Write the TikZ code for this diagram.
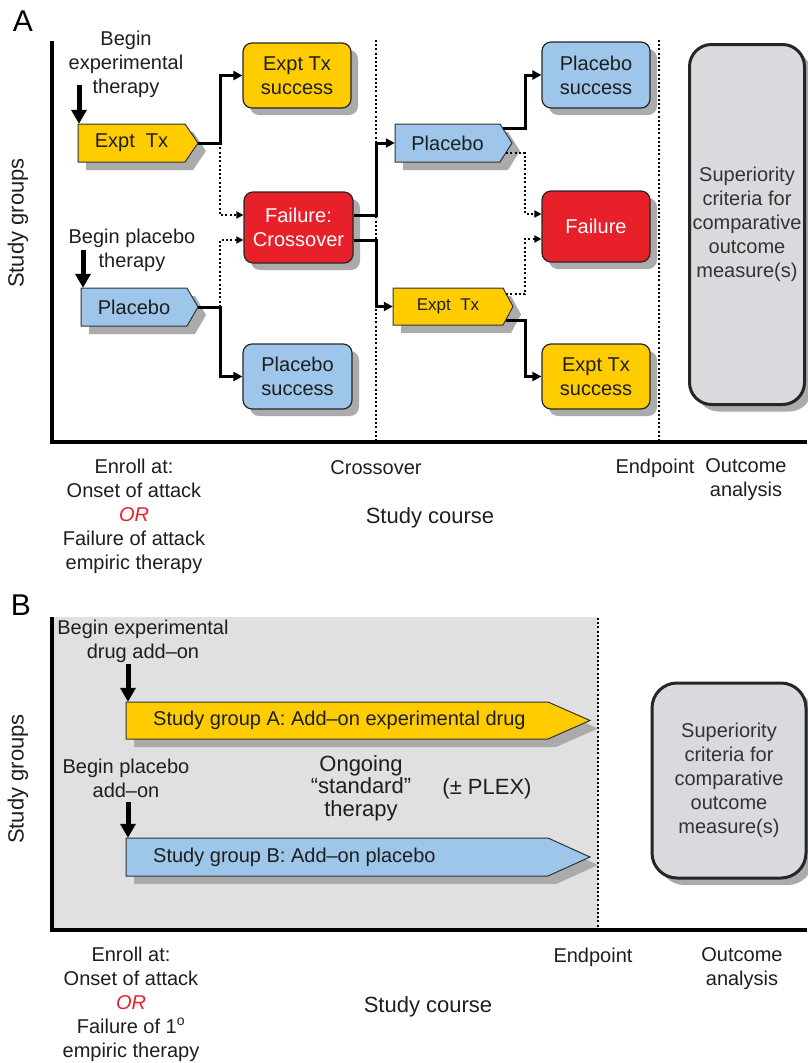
\documentclass[tikz,border=0pt]{standalone}
\usepackage{fontspec}
\setmainfont{Liberation Sans}
\usetikzlibrary{arrows.meta,shadows}
\definecolor{yel}{HTML}{FFCC00}
\definecolor{blu}{HTML}{9DC6EA}
\definecolor{rd}{HTML}{E8202A}
\definecolor{gbox}{HTML}{D8DADD}
\definecolor{bgB}{HTML}{E0E0E0}
\definecolor{shd}{HTML}{ABABAB}
\definecolor{txt}{HTML}{1E1E1E}
\newcommand\pentbox[8]{%
  \pgfmathsetmacro\pw{#4-#2}\pgfmathsetmacro\ph{#6-#3}%
  \pgfmathsetmacro\pmy{(#3+#6)/2}\pgfmathsetmacro\pmx{(#2+#4)/2}%
  \fill[shd,shift={(8pt,-8pt)}] (#2,#3) -- (#4,#3) -- (#5,\pmy) -- (#4,#6) -- (#2,#6) -- cycle;
  \draw[fill=#7,pentline] (#2,#3) -- (#4,#3) -- (#5,\pmy) -- (#4,#6) -- (#2,#6) -- cycle;
  \coordinate (#1-tip) at (#5,\pmy);
  \node[lbl,minimum width=\pw pt,minimum height=\ph pt] (#1) at (\pmx,\pmy) {#8};
}
\begin{document}
\begin{tikzpicture}[x=1pt,y=-1pt,
  lbl/.style={font=\fontsize{20}{24}\selectfont, align=center, text=txt, inner sep=0pt},
  big/.style={font=\fontsize{22}{22.5}\selectfont, align=center, text=txt, inner sep=0pt},
  pentline/.style={draw=black!80, line width=1pt},
  rbox/.style={lbl, draw=black!85, line width=1.2pt, rounded corners=9pt,
    drop shadow={shadow xshift=7pt, shadow yshift=-7pt, fill=shd, opacity=1}},
  supbox/.style={lbl, text=black!80, draw=black!85, fill=gbox, line width=3pt,
    drop shadow={shadow xshift=7pt, shadow yshift=-7pt, fill=shd, opacity=1}},
  conn/.style={line width=3pt, -{Triangle[length=9pt,width=9pt]}},
  dconn/.style={line width=2.2pt, dash pattern=on 2pt off 2.3pt, -{Triangle[length=7pt,width=7pt]}},
  bigarr/.style={line width=5pt, -{Triangle[length=14pt,width=15pt]}},
  axis/.style={line width=4pt},
  vdot/.style={line width=2pt, dash pattern=on 2pt off 2.2pt},
]
\useasboundingbox (0,0) rectangle (807,1063);

%================ PANEL A ================
\node[font=\fontsize{30}{30}\selectfont, inner sep=0] (labA) at (23,21) {A};
\coordinate (yA) at (52,41);
\coordinate (oA) at (52,442);
\coordinate (xA) at (807,442);
\draw[axis] (yA) -- (oA) -- (xA);
\node[big, rotate=90] (sgA) at (18,223) {Study groups};

\coordinate (d1t) at (376,40); \coordinate (d1b) at (376,442);
\coordinate (d2t) at (659,40); \coordinate (d2b) at (659,442);
\draw[vdot] (d1t) -- (d1b);
\draw[vdot] (d2t) -- (d2b);

% start labels
\node[lbl] (b1) at (126,64) {Begin\\experimental\\therapy};
\node[lbl] (b2) at (132,250) {Begin placebo\\therapy};

% pentagons
\pentbox{ex1}{78}{124}{185}{198}{162}{yel}{Expt~~Tx}
\pentbox{pl1}{81}{288}{187}{198}{326}{blu}{Placebo}
\pentbox{pl2}{395}{124}{500}{512}{162}{blu}{Placebo}
\pentbox{ex2}{393}{288}{503}{513}{325}{yel}{\fontsize{17}{20}\selectfont Expt~~Tx}

\coordinate (a1s) at (79,85);
\draw[bigarr] (a1s) -- (a1s |- ex1.north);
\coordinate (a2s) at (83,250);
\draw[bigarr] (a2s) -- (a2s |- pl1.north);

% outcome boxes
\node[rbox, fill=yel, minimum width=108pt, minimum height=65pt] (s1) at (297,75.5) {Expt Tx\\success};
\node[rbox, fill=rd, text=white, minimum width=109pt, minimum height=71pt] (f1) at (298.5,227.5) {Failure:\\Crossover};
\node[rbox, fill=blu, minimum width=109pt, minimum height=65pt] (ps1) at (297.5,376.5) {Placebo\\success};
\node[rbox, fill=blu, minimum width=108pt, minimum height=66pt] (ps2) at (596,75) {Placebo\\success};
\node[rbox, fill=rd, text=white, minimum width=108pt, minimum height=71pt] (f2) at (596,226.5) {Failure};
\node[rbox, fill=yel, minimum width=108pt, minimum height=65pt] (es2) at (596,376.5) {Expt Tx\\success};

\node[supbox, rounded corners=22pt, minimum width=115pt, minimum height=360pt] (supA) at (747,224.5)
  {Superiority\\criteria for\\comparative\\outcome\\measure(s)};

% connectors
\draw[conn] (ex1-tip) -- ++(22,0) |- (s1.west);
\draw[dconn] (ex1-tip) ++(22,0) |- ([yshift=12.5pt]f1.west);
\draw[conn] (pl1-tip) -- ++(22,0) |- (ps1.west);
\draw[dconn] (pl1-tip) ++(22,0) |- ([yshift=-12.5pt]f1.west);
\draw[conn] ([yshift=12.5pt]f1.east) -- ++(23,0) |- (pl2.west);
\draw[conn] ([yshift=-12.5pt]f1.east) -- ++(23,0) |- (ex2.west);
\draw[conn] ([xshift=-9pt,yshift=15pt]pl2-tip) -- ++(22,0) |- (ps2.west);
\draw[dconn] ([xshift=-6pt,yshift=-10pt]pl2-tip) -- ++(19,0) |- ([yshift=12.5pt]f2.west);
\draw[dconn] ([xshift=-7pt,yshift=12.5pt]ex2-tip) -- ++(19,0) |- ([yshift=-12.5pt]f2.west);
\draw[conn] ([xshift=-7pt,yshift=-13.5pt]ex2-tip) -- ++(19,0) |- (es2.west);

% bottom labels
\node[lbl] (enA) at (134,516) {Enroll at:\\Onset of attack\\{\color{rd}\itshape OR}\\Failure of attack\\empiric therapy};
\node[lbl] (crA) at (376,468) {Crossover};
\node[big] (scA) at (430,518) {Study course};
\node[lbl] (epA) at (655,468) {Endpoint};
\node[lbl] (oaA) at (746,479.5) {Outcome\\analysis};

%================ PANEL B ================
\node[font=\fontsize{30}{30}\selectfont, inner sep=0] (labB) at (21,605) {B};
\coordinate (bgnw) at (52,617);
\coordinate (bgse) at (598,930);
\fill[bgB] (bgnw) rectangle (bgse);
\coordinate (yB) at (52,617);
\coordinate (oB) at (52,930);
\coordinate (xB) at (807,930);
\draw[axis] (yB) -- (oB) -- (xB);
\node[big, rotate=90] (sgB) at (18,779) {Study groups};
\coordinate (d3t) at (598,618); \coordinate (d3b) at (598,930);
\draw[vdot] (d3t) -- (d3b);

\node[lbl] (b3) at (143,641) {Begin experimental\\drug add–on};
\node[lbl] (b4) at (126,778.5) {Begin placebo\\add–on};

\pentbox{gA}{126}{702}{548}{590}{739}{yel}{}
\pentbox{gB}{126}{838}{548}{590}{876}{blu}{}
\node[lbl, anchor=west] (tA) at (153,720.5) {Study group A: Add–on experimental drug};
\node[lbl, anchor=west] (tB) at (153,857) {Study group B: Add–on placebo};

\coordinate (a3s) at (128,664);
\draw[bigarr] (a3s) -- (a3s |- gA.north);
\coordinate (a4s) at (128,802);
\draw[bigarr] (a4s) -- (a4s |- gB.north);

\node[big] (ong) at (361,788) {Ongoing\\“standard”\\therapy};
\node[big] (plex) at (487,789) {(± PLEX)};

\node[supbox, rounded corners=25pt, minimum width=154pt, minimum height=195pt] (supB) at (729,780.5)
  {Superiority\\criteria for\\comparative\\outcome\\measure(s)};

\node[lbl] (enB) at (131,1004) {Enroll at:\\Onset of attack\\{\color{rd}\itshape OR}\\Failure of 1\textsuperscript{o}\\empiric therapy};
\node[big] (scB) at (428,1007) {Study course};
\node[lbl] (epB) at (593,957) {Endpoint};
\node[lbl] (oaB) at (742,968.5) {Outcome\\analysis};
\end{tikzpicture}
\end{document}
